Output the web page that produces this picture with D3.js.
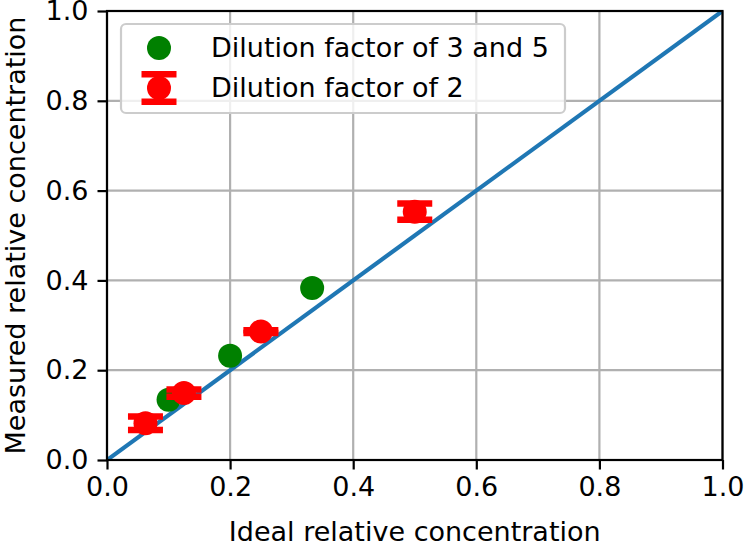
<!DOCTYPE html>
<html>
<head>
<meta charset="utf-8">
<script src="https://cdn.jsdelivr.net/npm/d3@7"></script>
<style>
  html, body { margin: 0; padding: 0; background: #fff; }
  svg { display: block; font-family: "DejaVu Sans", sans-serif; }
</style>
</head>
<body>
<svg id="chart" width="744" height="545"></svg>
<script>
// ---- data ----
const greenX = [0.1, 0.2, 0.3333];
const greenY = [0.134, 0.232, 0.383];
const redX = [0.0625, 0.125, 0.25, 0.5];
const redY = [0.082, 0.149, 0.286, 0.553];
const redErr = [0.015, 0.008, 0.003, 0.018];
const lineX = [0, 1];
const lineY = [0, 1];
const tickValues = [0.0, 0.2, 0.4, 0.6, 0.8, 1.0];
const xLabel = "Ideal relative concentration";
const yLabel = "Measured relative concentration";
const legendLabels = ["Dilution factor of 3 and 5", "Dilution factor of 2"];

// ---- layout ----
const W = 744, H = 545;
const m = { left: 107, right: 744 - 722.5, top: 11, bottom: 545 - 460 };
const pw = W - m.left - m.right, ph = H - m.top - m.bottom;
const fs = 27;

const svg = d3.select("#chart");
const x = d3.scaleLinear().domain([0, 1]).range([m.left, m.left + pw]);
const y = d3.scaleLinear().domain([0, 1]).range([m.top + ph, m.top]);

svg.append("defs").append("clipPath").attr("id", "clip")
  .append("rect").attr("x", m.left).attr("y", m.top).attr("width", pw).attr("height", ph);

// grid
const grid = svg.append("g");
grid.selectAll(".gx").data(tickValues).join("line")
  .attr("x1", d => x(d)).attr("x2", d => x(d))
  .attr("y1", m.top).attr("y2", m.top + ph)
  .attr("stroke", "#b0b0b0").attr("stroke-width", 2.2);
grid.selectAll(".gy").data(tickValues).join("line")
  .attr("y1", d => y(d)).attr("y2", d => y(d))
  .attr("x1", m.left).attr("x2", m.left + pw)
  .attr("stroke", "#b0b0b0").attr("stroke-width", 2.2);

// plot contents
const plot = svg.append("g").attr("clip-path", "url(#clip)");
const line = d3.line().x(d => x(d[0])).y(d => y(d[1]));
plot.append("path").datum(lineX.map((v, i) => [v, lineY[i]]))
  .attr("d", line).attr("fill", "none").attr("stroke", "#1f77b4").attr("stroke-width", 4.2);

const R = 12;
plot.selectAll(".g").data(greenX.map((v, i) => [v, greenY[i]])).join("circle")
  .attr("cx", d => x(d[0])).attr("cy", d => y(d[1])).attr("r", R).attr("fill", "#008000");

const capW = 35, capT = 6.5;
const reds = redX.map((v, i) => ({ x: v, y: redY[i], e: redErr[i] }));
const rg = plot.selectAll(".r").data(reds).join("g");
rg.append("line")
  .attr("x1", d => x(d.x)).attr("x2", d => x(d.x))
  .attr("y1", d => y(d.y - d.e)).attr("y2", d => y(d.y + d.e))
  .attr("stroke", "#ff0000").attr("stroke-width", capT);
rg.append("line")
  .attr("x1", d => x(d.x) - capW / 2).attr("x2", d => x(d.x) + capW / 2)
  .attr("y1", d => y(d.y + d.e)).attr("y2", d => y(d.y + d.e))
  .attr("stroke", "#ff0000").attr("stroke-width", capT);
rg.append("line")
  .attr("x1", d => x(d.x) - capW / 2).attr("x2", d => x(d.x) + capW / 2)
  .attr("y1", d => y(d.y - d.e)).attr("y2", d => y(d.y - d.e))
  .attr("stroke", "#ff0000").attr("stroke-width", capT);
rg.append("circle")
  .attr("cx", d => x(d.x)).attr("cy", d => y(d.y)).attr("r", R).attr("fill", "#ff0000");

// axes
const xAxis = d3.axisBottom(x).tickValues(tickValues).tickFormat(d3.format(".1f")).tickSize(9.5).tickPadding(7);
const yAxis = d3.axisLeft(y).tickValues(tickValues).tickFormat(d3.format(".1f")).tickSize(9.5).tickPadding(9);
const gx = svg.append("g").attr("transform", `translate(0,${m.top + ph})`).call(xAxis);
const gy = svg.append("g").attr("transform", `translate(${m.left},0)`).call(yAxis);
[gx, gy].forEach(g => {
  g.select(".domain").remove();
  g.selectAll(".tick line").attr("stroke", "#000").attr("stroke-width", 2.2);
  g.selectAll(".tick text").attr("fill", "#000").style("font-size", fs + "px").style("font-family", "DejaVu Sans");
});

// spines
svg.append("rect").attr("x", m.left).attr("y", m.top).attr("width", pw).attr("height", ph)
  .attr("fill", "none").attr("stroke", "#000").attr("stroke-width", 2.2);

// axis labels
svg.append("text").attr("x", m.left + pw / 2).attr("y", 541)
  .attr("text-anchor", "middle").style("font-size", fs + "px").text(xLabel);
svg.append("text").attr("transform", `translate(25,${m.top + ph / 2}) rotate(-90)`)
  .attr("text-anchor", "middle").style("font-size", fs + "px").text(yLabel);

// legend
const lg = svg.append("g");
lg.append("rect").attr("x", 121).attr("y", 24).attr("width", 444).attr("height", 89)
  .attr("rx", 5).attr("fill", "#fff").attr("fill-opacity", 0.8)
  .attr("stroke", "#cccccc").attr("stroke-width", 2.2);
lg.append("circle").attr("cx", 159).attr("cy", 48).attr("r", R).attr("fill", "#008000");
const ly = 88, lspan = 13.7;
lg.append("line").attr("x1", 159).attr("x2", 159).attr("y1", ly - lspan).attr("y2", ly + lspan)
  .attr("stroke", "#ff0000").attr("stroke-width", capT);
[ly - lspan, ly + lspan].forEach(yy => {
  lg.append("line").attr("x1", 159 - capW / 2).attr("x2", 159 + capW / 2).attr("y1", yy).attr("y2", yy)
    .attr("stroke", "#ff0000").attr("stroke-width", capT);
});
lg.append("circle").attr("cx", 159).attr("cy", ly).attr("r", R).attr("fill", "#ff0000");
lg.selectAll(".lt").data(legendLabels).join("text")
  .attr("x", 211).attr("y", (d, i) => 57 + i * 40)
  .style("font-size", fs + "px").attr("fill", "#000").text(d => d);
</script>
</body>
</html>
